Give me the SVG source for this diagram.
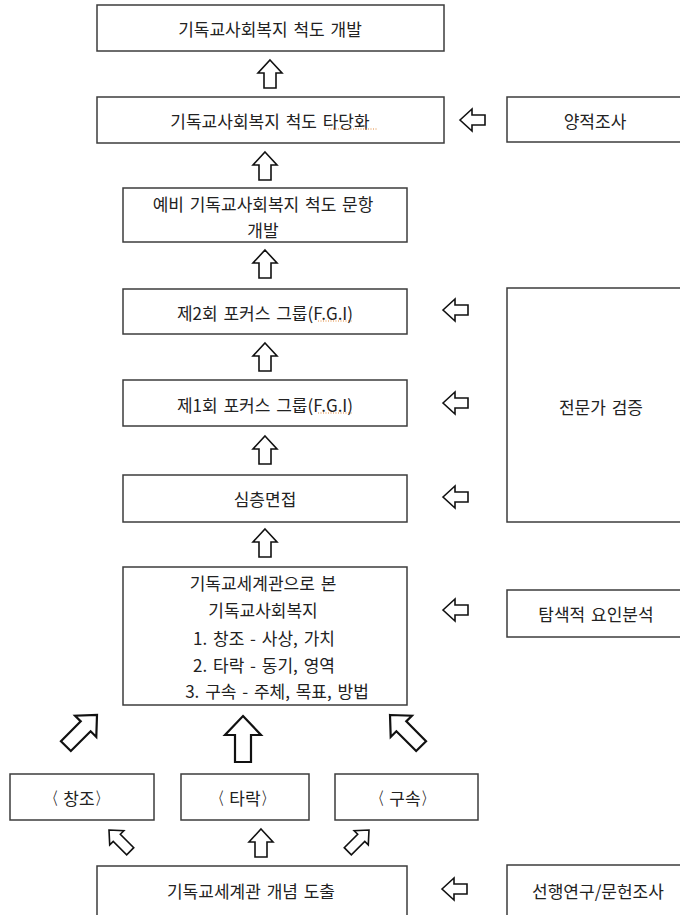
<svg xmlns="http://www.w3.org/2000/svg" xmlns:xlink="http://www.w3.org/1999/xlink" width="680" height="915" viewBox="0 0 680 915">
<style>
.box{fill:#fff;stroke:#3c3c3c;stroke-width:1.5}
.t{font-family:"Noto Sans CJK KR","Noto Sans",sans-serif;font-size:17px;fill:#222;text-anchor:middle;dominant-baseline:central;word-spacing:2px}
.arr{fill:#fff;stroke:#111;stroke-width:1.6;stroke-linejoin:miter}
.big{fill:#fff;stroke:#111;stroke-width:2.2;stroke-linejoin:miter}
.sq{fill:none;stroke:#e0883a;stroke-width:1;stroke-dasharray:1 1.5}
</style>
<defs>
<path id="up" d="M0,0 L12,13 L6,13 L6,28 L-6,28 L-6,13 L-12,13 Z"/>
<path id="left" d="M0,0 L12,-11 L12,-5 L25,-5 L25,5 L12,5 L12,11 Z"/>
<path id="bigup" d="M0,0 L18,19 L8,19 L8,46 L-8,46 L-8,19 L-18,19 Z"/>
<path id="diag" d="M0,0 L15,16 L7,16 L7,44 L-7,44 L-7,16 L-15,16 Z"/>
<path id="sdiag" d="M0,0 L10,11 L5,11 L5,30 L-5,30 L-5,11 L-10,11 Z"/>
</defs>
<rect width="680" height="915" fill="#fff"/>

<g id="n1"><rect class="box" x="97" y="5" width="347" height="46"/><text class="t" x="270" y="28">기독교사회복지 척도 개발</text></g>
<g id="n2"><rect class="box" x="97" y="97" width="347" height="46"/><text class="t" x="270" y="120">기독교사회복지 척도 타당화</text><path class="sq" d="M328,129 L377,129"/></g>
<g id="n3"><rect class="box" x="507" y="97" width="200" height="45"/><text class="t" x="595" y="120">양적조사</text></g>
<g id="n4"><rect class="box" x="123" y="188" width="284" height="54"/><text class="t" x="263" y="203">예비 기독교사회복지 척도 문항</text><text class="t" x="263" y="229">개발</text></g>
<g id="n5"><rect class="box" x="123" y="289" width="284" height="45"/><text class="t" x="265" y="312">제2회 포커스 그룹(F.G.I)</text><path class="sq" d="M318,321 L353,321"/></g>
<g id="n6"><rect class="box" x="123" y="380" width="284" height="46"/><text class="t" x="265" y="404">제1회 포커스 그룹(F.G.I)</text><path class="sq" d="M318,413 L353,413"/></g>
<g id="n7"><rect class="box" x="123" y="475" width="284" height="47"/><text class="t" x="265" y="498">심층면접</text></g>
<g id="n8"><rect class="box" x="123" y="567" width="284" height="138"/>
<text class="t" x="263" y="582">기독교세계관으로 본</text>
<text class="t" x="263" y="609">기독교사회복지</text>
<text class="t" x="264" y="637">1. 창조 - 사상, 가치</text>
<text class="t" x="264" y="664">2. 타락 - 동기, 영역</text>
<text class="t" x="277" y="690">3. 구속 - 주체, 목표, 방법</text></g>
<g id="n9"><rect class="box" x="507" y="288" width="200" height="234"/><text class="t" x="601" y="406">전문가 검증</text></g>
<g id="n10"><rect class="box" x="507" y="590" width="200" height="47"/><text class="t" x="596" y="613">탐색적 요인분석</text></g>
<g id="n11"><rect class="box" x="10" y="774" width="144" height="46"/><text class="t" x="52.5" y="797" textLength="10" lengthAdjust="spacingAndGlyphs">〈</text><text class="t" x="79" y="797">창조</text><text class="t" x="101" y="797" textLength="10" lengthAdjust="spacingAndGlyphs">〉</text></g>
<g id="n12"><rect class="box" x="181" y="774" width="128" height="46"/><text class="t" x="218.5" y="797" textLength="10" lengthAdjust="spacingAndGlyphs">〈</text><text class="t" x="245" y="797">타락</text><text class="t" x="267" y="797" textLength="10" lengthAdjust="spacingAndGlyphs">〉</text></g>
<g id="n13"><rect class="box" x="335" y="774" width="143" height="46"/><text class="t" x="378.5" y="797" textLength="10" lengthAdjust="spacingAndGlyphs">〈</text><text class="t" x="405" y="797">구속</text><text class="t" x="427" y="797" textLength="10" lengthAdjust="spacingAndGlyphs">〉</text></g>
<g id="n14"><rect class="box" x="97" y="866" width="310" height="60"/><text class="t" x="251" y="890">기독교세계관 개념 도출</text></g>
<g id="n15"><rect class="box" x="507" y="865" width="200" height="60"/><text class="t" x="598" y="890">선행연구/문헌조사</text></g>

<g id="connectors">
<use xlink:href="#up" class="arr" x="270" y="60"/>
<use xlink:href="#up" class="arr" x="265" y="152"/>
<use xlink:href="#up" class="arr" x="265" y="250"/>
<use xlink:href="#up" class="arr" x="265" y="343"/>
<use xlink:href="#up" class="arr" x="265" y="436"/>
<use xlink:href="#up" class="arr" x="265" y="529"/>
<use xlink:href="#left" class="arr" x="460" y="120"/>
<use xlink:href="#left" class="arr" x="443" y="310"/>
<use xlink:href="#left" class="arr" x="443" y="403"/>
<use xlink:href="#left" class="arr" x="443" y="497"/>
<use xlink:href="#left" class="arr" x="443" y="610"/>
<use xlink:href="#left" class="arr" x="442" y="889"/>
<use xlink:href="#bigup" class="big" x="243" y="716"/>
<use xlink:href="#diag" class="big" transform="translate(97,715) rotate(45)"/>
<use xlink:href="#diag" class="big" transform="translate(390,715) rotate(-45)"/>
<use xlink:href="#up" class="arr" x="261" y="829"/>
<use xlink:href="#sdiag" class="arr" transform="translate(109,830) rotate(-45)"/>
<use xlink:href="#sdiag" class="arr" transform="translate(369,830) rotate(45)"/>
</g>
</svg>
